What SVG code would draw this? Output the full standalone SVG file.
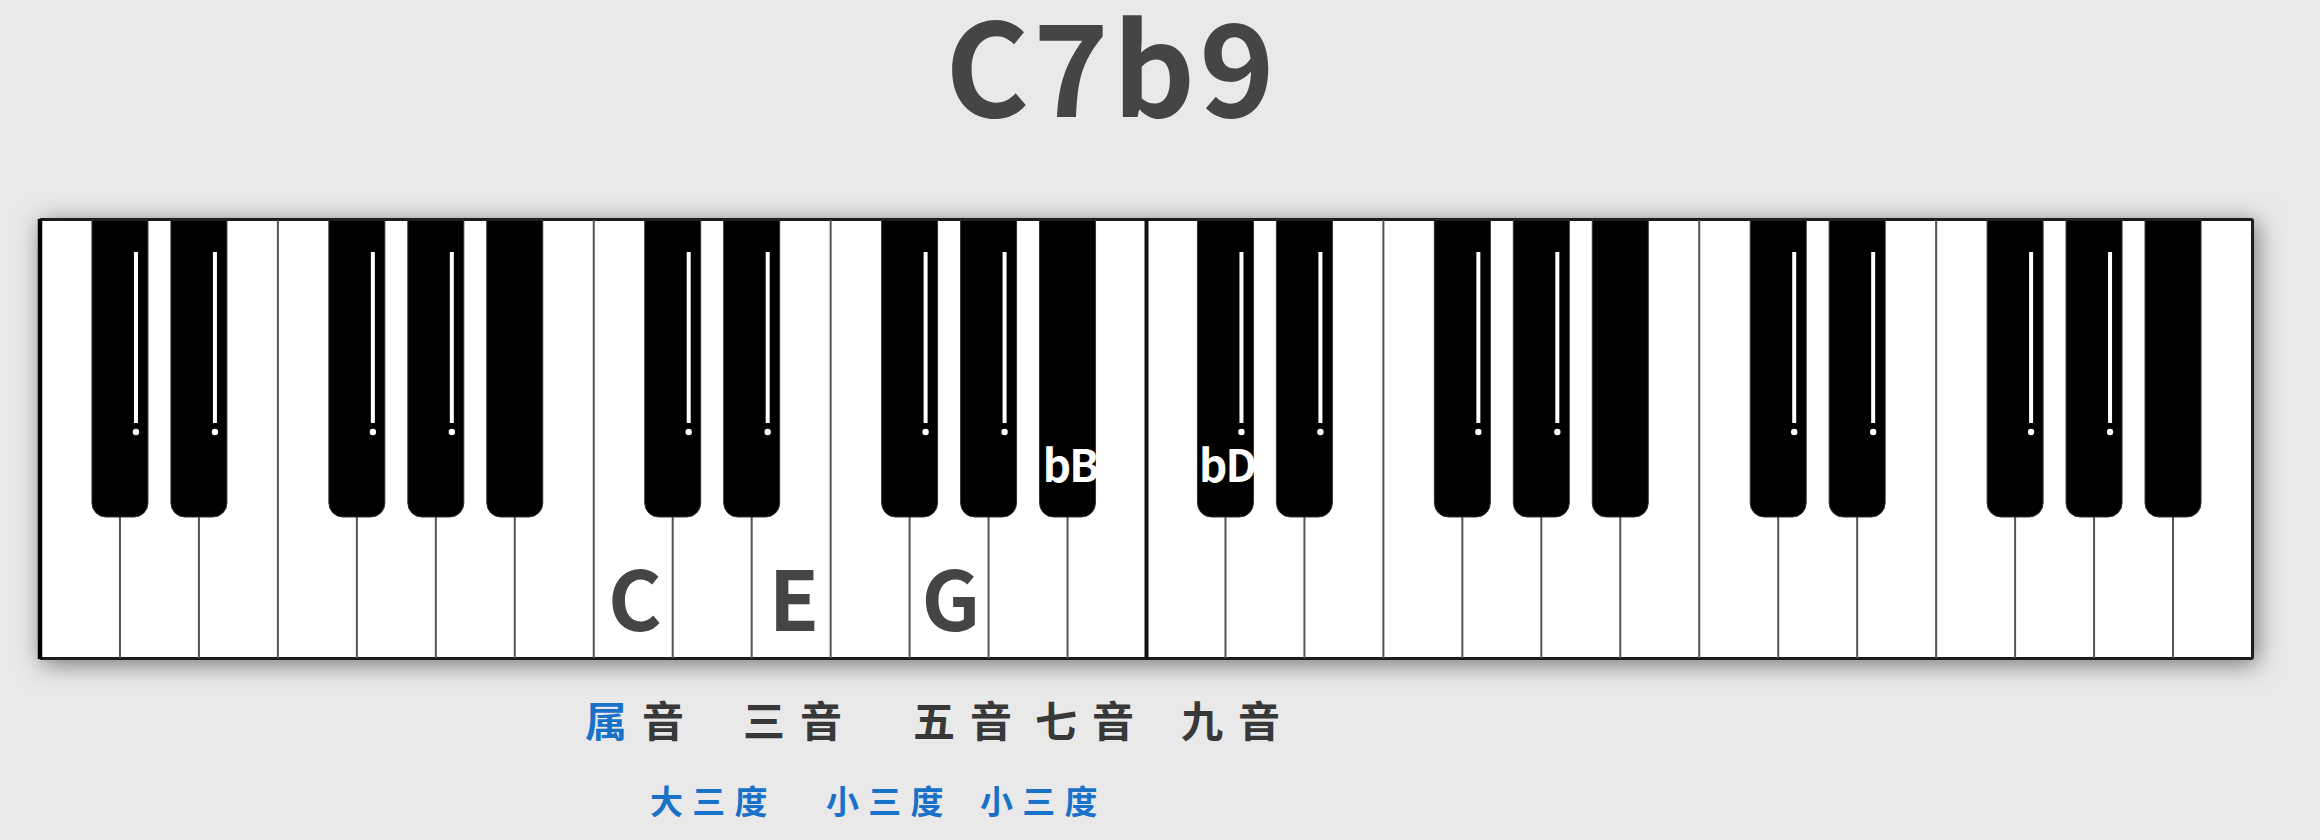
<svg xmlns="http://www.w3.org/2000/svg" xmlns:xlink="http://www.w3.org/1999/xlink" width="2320" height="840" viewBox="0 0 2320 840">
<style>
.cjk{font-family:"Noto Sans CJK SC","Noto Sans",sans-serif}
.title{font-size:128px;font-weight:700;fill:#454545;letter-spacing:4px}
.note{font-size:82px;font-weight:700;fill:#454545;text-anchor:middle}
.flat{font-size:44px;font-weight:700;fill:#ffffff;text-anchor:middle;letter-spacing:-2px}
.deg{font-size:42px;font-weight:700;fill:#383838;letter-spacing:15px}
.iv{font-size:33px;font-weight:700;fill:#1a72c8;letter-spacing:9.3px}
.blue{fill:#1a72c8}
.sep{stroke:#555555;stroke-width:2}
</style>
<defs>
<filter id="shadow" x="-5%" y="-15%" width="110%" height="130%">
<feDropShadow dx="3" dy="4" stdDeviation="12" flood-color="#000" flood-opacity="0.5"/>
</filter>
<path id="bk" d="M-28,0 H28 V283 A14,14 0 0 1 14,297 H-14 A14,14 0 0 1 -28,283 Z" fill="#000" stroke="#333" stroke-width="1"/>
<g id="bkl">
<use xlink:href="#bk"/>
<rect x="14" y="32" width="4" height="171" fill="#fff"/>
<circle cx="16" cy="212" r="3.2" fill="#fff"/>
</g>
</defs>
<rect width="2320" height="840" fill="#e9e9e9"/>
<text id="title" class="cjk title" x="1112" y="117" text-anchor="middle">C7b9</text>
<g id="keyboard">
<rect x="40" y="219.5" width="2212.5" height="439" rx="1.5" fill="#fff" stroke="#1a1a1a" stroke-width="3" filter="url(#shadow)"/>
<line x1="40" y1="219" x2="40" y2="659" stroke="#000" stroke-width="4.5"/>
<g id="white-key-lines" class="sep">
<line x1="119.96" y1="220" x2="119.96" y2="658"/>
<line x1="198.93" y1="220" x2="198.93" y2="658"/>
<line x1="277.89" y1="220" x2="277.89" y2="658"/>
<line x1="356.86" y1="220" x2="356.86" y2="658"/>
<line x1="435.82" y1="220" x2="435.82" y2="658"/>
<line x1="514.78" y1="220" x2="514.78" y2="658"/>
<line x1="593.75" y1="220" x2="593.75" y2="658"/>
<line x1="672.71" y1="220" x2="672.71" y2="658"/>
<line x1="751.68" y1="220" x2="751.68" y2="658"/>
<line x1="830.64" y1="220" x2="830.64" y2="658"/>
<line x1="909.60" y1="220" x2="909.60" y2="658"/>
<line x1="988.57" y1="220" x2="988.57" y2="658"/>
<line x1="1067.53" y1="220" x2="1067.53" y2="658"/>
<line x1="1146.50" y1="220" x2="1146.50" y2="658" stroke="#111" stroke-width="4"/>
<line x1="1225.46" y1="220" x2="1225.46" y2="658"/>
<line x1="1304.42" y1="220" x2="1304.42" y2="658"/>
<line x1="1383.39" y1="220" x2="1383.39" y2="658"/>
<line x1="1462.35" y1="220" x2="1462.35" y2="658"/>
<line x1="1541.32" y1="220" x2="1541.32" y2="658"/>
<line x1="1620.28" y1="220" x2="1620.28" y2="658"/>
<line x1="1699.24" y1="220" x2="1699.24" y2="658"/>
<line x1="1778.21" y1="220" x2="1778.21" y2="658"/>
<line x1="1857.17" y1="220" x2="1857.17" y2="658"/>
<line x1="1936.14" y1="220" x2="1936.14" y2="658"/>
<line x1="2015.10" y1="220" x2="2015.10" y2="658"/>
<line x1="2094.06" y1="220" x2="2094.06" y2="658"/>
<line x1="2173.03" y1="220" x2="2173.03" y2="658"/>
</g>
<g id="black-keys">
<use xlink:href="#bkl" transform="translate(119.96,220)"/>
<use xlink:href="#bkl" transform="translate(198.93,220)"/>
<use xlink:href="#bkl" transform="translate(356.86,220)"/>
<use xlink:href="#bkl" transform="translate(435.82,220)"/>
<use xlink:href="#bk" transform="translate(514.78,220)"/>
<use xlink:href="#bkl" transform="translate(672.71,220)"/>
<use xlink:href="#bkl" transform="translate(751.68,220)"/>
<use xlink:href="#bkl" transform="translate(909.60,220)"/>
<use xlink:href="#bkl" transform="translate(988.57,220)"/>
<use xlink:href="#bk" transform="translate(1067.53,220)"/>
<use xlink:href="#bkl" transform="translate(1225.46,220)"/>
<use xlink:href="#bkl" transform="translate(1304.42,220)"/>
<use xlink:href="#bkl" transform="translate(1462.35,220)"/>
<use xlink:href="#bkl" transform="translate(1541.32,220)"/>
<use xlink:href="#bk" transform="translate(1620.28,220)"/>
<use xlink:href="#bkl" transform="translate(1778.21,220)"/>
<use xlink:href="#bkl" transform="translate(1857.17,220)"/>
<use xlink:href="#bkl" transform="translate(2015.10,220)"/>
<use xlink:href="#bkl" transform="translate(2094.06,220)"/>
<use xlink:href="#bk" transform="translate(2173.03,220)"/>
</g>
</g>
<g id="note-labels">
<text id="note-c" class="cjk note" x="635" y="631">C</text>
<text id="note-e" class="cjk note" x="794" y="631">E</text>
<text id="note-g" class="cjk note" x="951" y="631">G</text>
<text id="note-bb" class="cjk flat" x="1070" y="482">bB</text>
<text id="note-bd" class="cjk flat" x="1227" y="482">bD</text>
</g>
<g id="degree-labels">
<text id="deg-root" class="cjk deg" x="585" y="737"><tspan class="blue">属</tspan>音</text>
<text id="deg-3" class="cjk deg" x="743" y="737">三音</text>
<text id="deg-5" class="cjk deg" x="913" y="737">五音</text>
<text id="deg-7" class="cjk deg" x="1035" y="737">七音</text>
<text id="deg-9" class="cjk deg" x="1181" y="737">九音</text>
</g>
<g id="interval-labels">
<text id="iv-1" class="cjk iv" x="650" y="814">大三度</text>
<text id="iv-2" class="cjk iv" x="826" y="814">小三度</text>
<text id="iv-3" class="cjk iv" x="980" y="814">小三度</text>
</g>
</svg>
